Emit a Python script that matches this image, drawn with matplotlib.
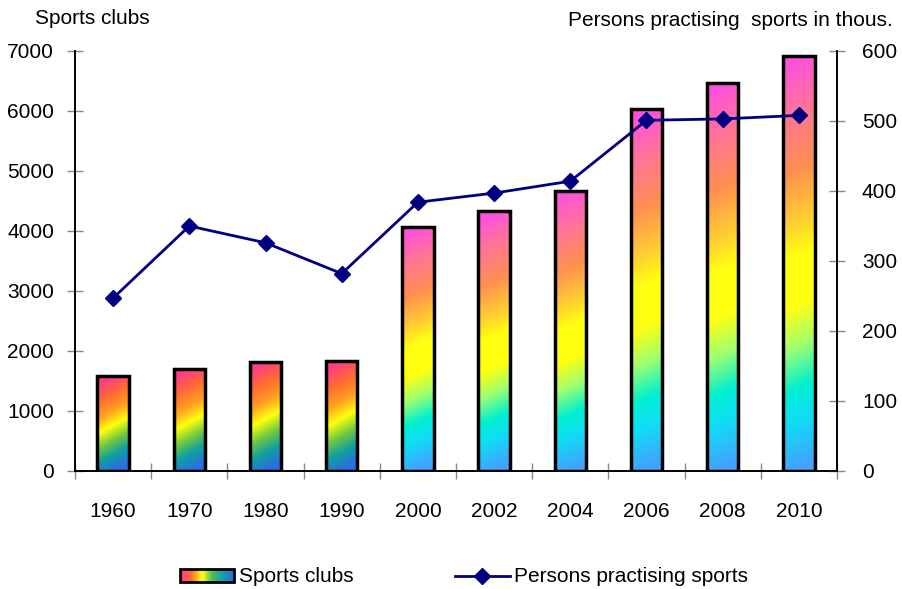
import numpy as np
import matplotlib
matplotlib.use("Agg")
import matplotlib.pyplot as plt
from matplotlib.colors import LinearSegmentedColormap
from matplotlib.patches import Rectangle
from matplotlib.lines import Line2D
from matplotlib.legend_handler import HandlerBase

plt.rcParams['font.family'] = ['Liberation Sans', 'DejaVu Sans']

years = ["1960", "1970", "1980", "1990", "2000", "2002", "2004", "2006", "2008", "2010"]
clubs = [1580, 1700, 1810, 1830, 4070, 4330, 4670, 6030, 6470, 6910]
persons = [247, 350, 326, 282, 384, 397, 414, 501, 503, 508]
left_ticks = [0, 1000, 2000, 3000, 4000, 5000, 6000, 7000]
right_ticks = [0, 100, 200, 300, 400, 500, 600]

FS = 15

cmap_short = LinearSegmentedColormap.from_list("short", [
    (0.0, "#ff3d85"), (0.18, "#ff6a33"), (0.36, "#ffa020"), (0.52, "#ffff10"),
    (0.68, "#70c840"), (0.83, "#10a0a0"), (1.0, "#2a6ee0")])
cmap_tall = LinearSegmentedColormap.from_list("tall", [
    (0.0, "#ff50e0"), (0.13, "#ff7595"), (0.27, "#ff9050"), (0.4, "#ffd030"),
    (0.48, "#ffff10"), (0.6, "#ffff10"), (0.7, "#a0ff70"), (0.8, "#00f0d0"),
    (0.88, "#10ddf5"), (1.0, "#45a0ff")])
cmap_legend = LinearSegmentedColormap.from_list("leg", [
    "#ff3d85", "#ff7030", "#ffff10", "#40c060", "#10a0b0", "#2a6ee0"])

fig = plt.figure(figsize=(9.03, 5.89), dpi=100)
ax = fig.add_axes([75/903, 1-471/589, (837-75)/903, 420/589])
ax2 = ax.twinx()

x = np.arange(len(years))
width = 0.41
bars = ax.bar(x, clubs, width=width, facecolor="none", edgecolor="black",
              linewidth=2.5, zorder=3)

# gradient fills, one image per bar, clipped to the bar rectangle
for i, b in enumerate(bars):
    h = b.get_height()
    x0 = b.get_x()
    w = b.get_width()
    hpx = h / 7000 * 420
    ny, nx = 200, 40
    yy = np.linspace(0, 1, ny)[:, None]   # 0 at top of bar
    xx = np.linspace(0, 1, nx)[None, :]
    t = yy + 0.55 * (xx - 0.5) * (31.0 / hpx) * (1 if i < 4 else 0.8)
    t = np.clip(t, 0, 1)
    cm = cmap_short if i < 4 else cmap_tall
    img = cm(t)
    im = ax.imshow(img, extent=[x0, x0 + w, 0, h], origin="upper",
                   aspect="auto", interpolation="bilinear", zorder=2)
    im.set_clip_path(b)
ax.set_xlim(-0.5, len(years) - 0.5)
ax.set_ylim(0, 7000)
ax2.set_ylim(0, 600)
ax.set_aspect("auto")

ax2.plot(x, persons, color="#000080", linewidth=2, marker="D", markersize=8.5,
         zorder=5)

# axes styling
ax.set_xticks(np.arange(-0.5, len(years), 1.0))
ax.set_xticklabels([])
ax.set_xticks(x, minor=True)
ax.set_xticklabels(years, minor=True, fontsize=FS)
ax.tick_params(axis="x", which="minor", length=0, pad=22)
ax.tick_params(axis="x", which="major", direction="inout", length=12,
               color="#888888", width=1)
ax.set_yticks(left_ticks)
ax.set_yticklabels([str(v) for v in left_ticks], fontsize=FS)
ax.tick_params(axis="y", direction="inout", length=12, color="#888888",
               width=1, pad=9)
ax2.set_yticks(right_ticks)
ax2.set_yticklabels([str(v) for v in right_ticks], fontsize=FS)
ax2.tick_params(axis="y", direction="inout", length=12, color="#888888",
                width=1, pad=12)
for a in (ax, ax2):
    a.spines["top"].set_visible(False)
    for s in ("left", "right", "bottom"):
        a.spines[s].set_color("black")
        a.spines[s].set_linewidth(1.2)
ax.set_zorder(ax2.get_zorder() - 1)
ax2.patch.set_visible(False)

fig.text(35/903, 1-18/589, "Sports clubs", fontsize=FS, ha="left", va="center")
fig.text(893/903, 1-21/589, "Persons practising  sports in thous.", fontsize=FS,
         ha="right", va="center")


class GradientHandler(HandlerBase):
    def create_artists(self, legend, orig_handle, xdescent, ydescent, width,
                       height, fontsize, trans):
        arts = []
        n = 30
        for k in range(n):
            r = Rectangle((-xdescent + width * k / n, -ydescent), width / n + 0.3,
                          height, facecolor=cmap_legend(k / (n - 1)),
                          edgecolor="none", transform=trans)
            arts.append(r)
        border = Rectangle((-xdescent, -ydescent), width, height,
                           facecolor="none", edgecolor="black", linewidth=2,
                           transform=trans)
        arts.append(border)
        return arts


bar_handle = Rectangle((0, 0), 1, 1)
line_handle = Line2D([], [], color="#000080", linewidth=2, marker="D",
                     markersize=8)
leg = fig.legend([bar_handle, line_handle],
                 ["Sports clubs", "Persons practising sports"],
                 handler_map={Rectangle: GradientHandler()},
                 loc="center", bbox_to_anchor=(464/903, 1-577/589), ncol=2,
                 frameon=False, fontsize=FS, handlelength=2.6,
                 handletextpad=0.2, columnspacing=4.9, handleheight=0.6)

fig.savefig("out.png", dpi=100)
